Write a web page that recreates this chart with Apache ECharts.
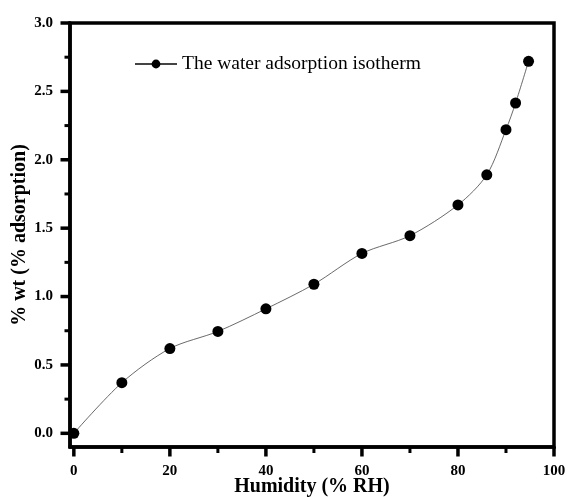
<!DOCTYPE html>
<html>
<head>
<meta charset="utf-8">
<script src="https://cdn.jsdelivr.net/npm/echarts@6/dist/echarts.min.js"></script>
<style>
  html, body { margin: 0; padding: 0; background: #fff; }
  #chart { width: 569px; height: 497px; }
</style>
</head>
<body>
<div id="chart"></div>
<script>
var humidity = [0, 10, 20, 30, 40, 50, 60, 70, 80, 86, 90, 92, 94.7];
var uptake = [0, 0.37, 0.62, 0.745, 0.91, 1.09, 1.315, 1.445, 1.67, 1.89, 2.22, 2.415, 2.72];
var xMajor = [0, 20, 40, 60, 80, 100];
var xMinor = [10, 30, 50, 70, 90];
var yMajor = [0, 0.5, 1.0, 1.5, 2.0, 2.5, 3.0];
var yMinor = [0.25, 0.75, 1.25, 1.75, 2.25, 2.75];

var serif = 'Liberation Serif';
var xMin = -0.8, xMax = 100, yMin = -0.1, yMax = 3.0;
var dom = document.getElementById('chart');
var myChart = echarts.init(dom);

var points = humidity.map(function (h, i) { return [h, uptake[i]]; });

var option = {
    animation: false,
    grid: {
        left: 70, top: 23, right: 15, bottom: 50,
        containLabel: false, outerBoundsMode: 'none',
        show: true, borderColor: '#000', borderWidth: 3.5
    },
    legend: {
        left: 129, top: 49,
        itemWidth: 42, itemHeight: 11,
        textStyle: { fontFamily: serif, fontSize: 19.5, color: '#000' },
        data: ['The water adsorption isotherm']
    },
    xAxis: {
        type: 'value', min: xMin, max: xMax,
        name: 'Humidity (% RH)', nameLocation: 'middle', nameGap: 30, nameMoveOverlap: false,
        nameTextStyle: { fontFamily: serif, fontSize: 20, fontWeight: 'bold', color: '#000' },
        axisLine: { show: true, onZero: false, lineStyle: { color: '#000', width: 3.5 } },
        axisTick: { show: false },
        axisLabel: {
            customValues: xMajor, margin: 17,
            fontFamily: serif, fontSize: 15, fontWeight: 'bold', color: '#000'
        },
        splitLine: { show: false }
    },
    yAxis: {
        type: 'value', min: yMin, max: yMax,
        name: '% wt (% adsorption)', nameLocation: 'middle', nameGap: 40, nameMoveOverlap: false,
        nameTextStyle: { fontFamily: serif, fontSize: 20, fontWeight: 'bold', color: '#000' },
        axisLine: { show: true, onZero: false, lineStyle: { color: '#000', width: 3.5 } },
        axisTick: { show: false },
        axisLabel: {
            customValues: yMajor, margin: 17,
            formatter: function (v) { return v.toFixed(1); },
            fontFamily: serif, fontSize: 15, fontWeight: 'bold', color: '#000'
        },
        splitLine: { show: false }
    },
    series: [
        {
            name: 'The water adsorption isotherm',
            type: 'line',
            data: points,
            smooth: 0.3,
            symbol: 'circle', symbolSize: 11,
            itemStyle: { color: '#000' },
            lineStyle: { color: '#444', width: 0.8 }
        }
    ]
};

myChart.setOption(option);

// tick marks, placed through the chart's own axis scales
var ticks = [];
var baseY = myChart.convertToPixel({ yAxisIndex: 0 }, yMin);
var baseX = myChart.convertToPixel({ xAxisIndex: 0 }, xMin);
function xTick(v, len, w) {
    var px = myChart.convertToPixel({ xAxisIndex: 0 }, v);
    ticks.push({ type: 'line', silent: true, shape: { x1: px, y1: baseY, x2: px, y2: baseY + len },
        style: { stroke: '#000', lineWidth: w } });
}
function yTick(v, len, w) {
    var py = myChart.convertToPixel({ yAxisIndex: 0 }, v);
    ticks.push({ type: 'line', silent: true, shape: { x1: baseX, y1: py, x2: baseX - len, y2: py },
        style: { stroke: '#000', lineWidth: w } });
}
xMajor.forEach(function (v) { xTick(v, 9.5, 3.5); });
xMinor.forEach(function (v) { xTick(v, 6, 3); });
yMajor.forEach(function (v) { yTick(v, 9.5, 3.5); });
yMinor.forEach(function (v) { yTick(v, 5.5, 3); });
myChart.setOption({ graphic: ticks });
</script>
</body>
</html>
